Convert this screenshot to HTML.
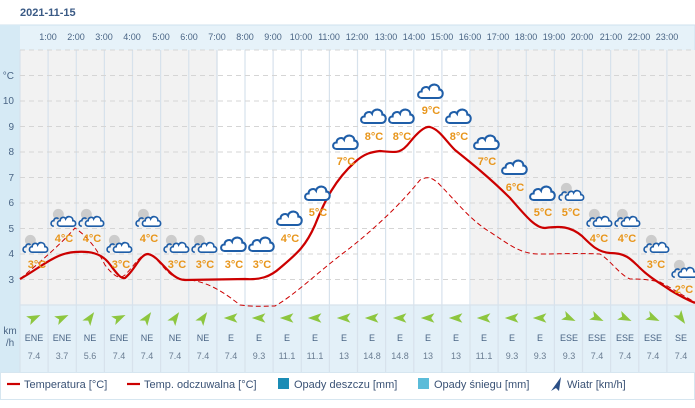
<!DOCTYPE html>
<html><head><meta charset="utf-8"><style>
html,body{margin:0;padding:0;background:#fff;width:695px;height:408px;overflow:hidden}
svg{display:block;font-family:"Liberation Sans",sans-serif}
</style></head><body>
<svg width="695" height="408" viewBox="0 0 695 408">
<defs>
<symbol id="cl" viewBox="0 0 30 20" overflow="visible">
<path d="M6,18 C1,18 1,11 6,11 C6,6 12,5 14,8 C15,2 25,2 25,9 C30,9 30,18 24,18 Z" fill="#fff" stroke="#1f5ea8" stroke-width="2.2"/>
</symbol>
<symbol id="nt" viewBox="0 0 30 22" overflow="visible">
<circle cx="11" cy="7" r="6" fill="#ccc"/>
<path d="M6,20 C2,20 2,14 6,14 C6,11 10,10 11,12" fill="none" stroke="#1f5ea8" stroke-width="1.8"/>
<path d="M13,20 C9,20 9,14 13,14 C13,10 18,9 19,12 C21,8 27,9 27,14 C31,14 31,20 27,20 Z" fill="#fff" stroke="#1f5ea8" stroke-width="1.8"/>
</symbol>
<symbol id="ar" viewBox="-10 -10 20 20" overflow="visible">
<path d="M9,0 L-8,-6 L-4,0 L-8,6 Z" fill="#8dc63f"/>
</symbol>
</defs>
<text x="20" y="16" font-size="11" font-weight="bold" fill="#3a5a85">2021-11-15</text>
<rect x="0" y="25" width="695" height="347" fill="#e6f2f9" stroke="#cfe2ee"/>
<rect x="0" y="25" width="20" height="347" fill="#d6eaf5"/>
<rect x="20" y="50" width="198" height="255" fill="#f2f2f2"/>
<rect x="218" y="50" width="253" height="255" fill="#fff"/>
<rect x="471" y="50" width="224" height="255" fill="#f2f2f2"/>
<rect x="20" y="305" width="675" height="67" fill="#e3f0f8"/>
<g stroke="#d7e2ec" stroke-width="1.2">
<line x1="48.1" y1="50" x2="48.1" y2="372"/><line x1="76.3" y1="50" x2="76.3" y2="372"/><line x1="104.4" y1="50" x2="104.4" y2="372"/><line x1="132.5" y1="50" x2="132.5" y2="372"/><line x1="160.6" y1="50" x2="160.6" y2="372"/><line x1="188.8" y1="50" x2="188.8" y2="372"/><line x1="216.9" y1="50" x2="216.9" y2="372"/><line x1="245" y1="50" x2="245" y2="372"/><line x1="273.1" y1="50" x2="273.1" y2="372"/><line x1="301.3" y1="50" x2="301.3" y2="372"/><line x1="329.4" y1="50" x2="329.4" y2="372"/><line x1="357.5" y1="50" x2="357.5" y2="372"/><line x1="385.6" y1="50" x2="385.6" y2="372"/><line x1="413.8" y1="50" x2="413.8" y2="372"/><line x1="441.9" y1="50" x2="441.9" y2="372"/><line x1="470" y1="50" x2="470" y2="372"/><line x1="498.1" y1="50" x2="498.1" y2="372"/><line x1="526.3" y1="50" x2="526.3" y2="372"/><line x1="554.4" y1="50" x2="554.4" y2="372"/><line x1="582.5" y1="50" x2="582.5" y2="372"/><line x1="610.6" y1="50" x2="610.6" y2="372"/><line x1="638.8" y1="50" x2="638.8" y2="372"/><line x1="666.9" y1="50" x2="666.9" y2="372"/>
<line x1="20" y1="50" x2="20" y2="372"/><line x1="20" y1="305" x2="695" y2="305"/>
</g>
<g stroke="#d5d5d5" stroke-dasharray="5,4">
<line x1="20" y1="50" x2="695" y2="50"/><line x1="20" y1="75.5" x2="695" y2="75.5"/><line x1="20" y1="101" x2="695" y2="101"/><line x1="20" y1="126.5" x2="695" y2="126.5"/><line x1="20" y1="152" x2="695" y2="152"/><line x1="20" y1="177.5" x2="695" y2="177.5"/><line x1="20" y1="203" x2="695" y2="203"/><line x1="20" y1="228.5" x2="695" y2="228.5"/><line x1="20" y1="254" x2="695" y2="254"/><line x1="20" y1="279.5" x2="695" y2="279.5"/>
</g>
<g font-size="9" fill="#4a6585" text-anchor="middle">
<text x="48" y="40">1:00</text><text x="76" y="40">2:00</text><text x="104" y="40">3:00</text><text x="132" y="40">4:00</text><text x="161" y="40">5:00</text><text x="189" y="40">6:00</text><text x="217" y="40">7:00</text><text x="245" y="40">8:00</text><text x="273" y="40">9:00</text><text x="301" y="40">10:00</text><text x="329" y="40">11:00</text><text x="357" y="40">12:00</text><text x="386" y="40">13:00</text><text x="414" y="40">14:00</text><text x="442" y="40">15:00</text><text x="470" y="40">16:00</text><text x="498" y="40">17:00</text><text x="526" y="40">18:00</text><text x="554" y="40">19:00</text><text x="582" y="40">20:00</text><text x="611" y="40">21:00</text><text x="639" y="40">22:00</text><text x="667" y="40">23:00</text>
</g>
<g font-size="10" fill="#4a6585" text-anchor="end">
<text x="14" y="79">°C</text><text x="14" y="104">10</text><text x="14" y="130">9</text><text x="14" y="155">8</text><text x="14" y="181">7</text><text x="14" y="206">6</text><text x="14" y="232">5</text><text x="14" y="257">4</text><text x="14" y="283">3</text>
</g>
<text x="10" y="334" font-size="10" fill="#4a6585" text-anchor="middle">km</text>
<text x="10" y="346" font-size="10" fill="#4a6585" text-anchor="middle">/h</text>
<path d="M20,304 L48,306 L76,306 L100,305 C115,304 120,300 135,300 L150,302 L160,306 L240,306 L270,306 C290,300 300,293 330,270 C360,245 380,225 400,205 C415,185 420,177 428,177 C440,180 450,195 470,215 C490,230 505,240 520,245 L535,250" fill="none"/>
<path d="M20,279 C40,262 60,245 75,228 C85,235 95,245 105,265 C115,278 120,279 125,275 C135,265 140,254 148,254 C158,256 165,275 180,279 C200,280 215,285 240,305 C255,307 265,306 275,306 C295,295 320,270 350,248 C375,228 400,205 420,180 C428,176 432,177 440,185 C455,200 470,220 490,232 C510,245 520,254 540,254 C560,254 575,253 600,254 C610,260 620,275 630,279 C645,279 650,280 660,282 C675,290 685,297 695,302" fill="none" stroke="#c00" stroke-width="1" stroke-dasharray="5,3"/>
<path d="M20,279 C40,268 55,253 75,252 C90,251 100,253 108,262 C116,272 120,279 125,278 C135,270 140,254 148,254 C160,256 170,280 185,280 L245,279 C260,280 270,277 280,268 C295,255 305,248 315,225 C325,200 335,180 355,162 C365,153 372,152 380,151 C395,152 400,155 410,142 C418,132 425,126 430,127 C440,130 445,140 455,150 C470,162 490,178 510,198 C525,215 535,228 545,228 C560,226 570,226 582,236 C592,246 598,252 610,253 C625,253 630,258 640,268 C650,278 660,283 670,290 C680,296 688,300 695,303" fill="none" stroke="#c00" stroke-width="2.2"/>
<g font-size="11" font-weight="bold" fill="#e8961c" text-anchor="middle">
<text x="37" y="268">3°C</text><text x="64" y="242">4°C</text><text x="92" y="242">4°C</text><text x="121" y="268">3°C</text><text x="149" y="242">4°C</text><text x="177" y="268">3°C</text><text x="205" y="268">3°C</text><text x="234" y="268">3°C</text><text x="262" y="268">3°C</text><text x="290" y="242">4°C</text><text x="318" y="216">5°C</text><text x="346" y="165">7°C</text><text x="374" y="140">8°C</text><text x="402" y="140">8°C</text><text x="431" y="114">9°C</text><text x="459" y="140">8°C</text><text x="487" y="165">7°C</text><text x="515" y="191">6°C</text><text x="543" y="216">5°C</text><text x="571" y="216">5°C</text><text x="599" y="242">4°C</text><text x="627" y="242">4°C</text><text x="656" y="268">3°C</text><text x="684" y="293">2°C</text>
</g>
<use href="#nt" x="20" y="234" width="28" height="20"/>
<use href="#nt" x="48" y="208" width="28" height="20"/>
<use href="#nt" x="76" y="208" width="28" height="20"/>
<use href="#nt" x="104" y="234" width="28" height="20"/>
<use href="#nt" x="133" y="208" width="28" height="20"/>
<use href="#nt" x="161" y="234" width="28" height="20"/>
<use href="#nt" x="189" y="234" width="28" height="20"/>
<use href="#cl" x="219" y="234" width="28" height="19"/>
<use href="#cl" x="247" y="234" width="28" height="19"/>
<use href="#cl" x="275" y="208" width="28" height="19"/>
<use href="#cl" x="303" y="183" width="28" height="19"/>
<use href="#cl" x="331" y="132" width="28" height="19"/>
<use href="#cl" x="359" y="106" width="28" height="19"/>
<use href="#cl" x="387" y="106" width="28" height="19"/>
<use href="#cl" x="416" y="81" width="28" height="19"/>
<use href="#cl" x="444" y="106" width="28" height="19"/>
<use href="#cl" x="472" y="132" width="28" height="19"/>
<use href="#cl" x="500" y="157" width="28" height="19"/>
<use href="#cl" x="528" y="183" width="28" height="19"/>
<use href="#nt" x="556" y="182" width="28" height="20"/>
<use href="#nt" x="584" y="208" width="28" height="20"/>
<use href="#nt" x="612" y="208" width="28" height="20"/>
<use href="#nt" x="641" y="234" width="28" height="20"/>
<use href="#nt" x="669" y="259" width="28" height="20"/>
<g>
<use href="#ar" x="26" y="310" width="16" height="16" transform="rotate(-25 34 318)"/>
<use href="#ar" x="54" y="310" width="16" height="16" transform="rotate(-25 62 318)"/>
<use href="#ar" x="82" y="310" width="16" height="16" transform="rotate(-55 90 318)"/>
<use href="#ar" x="111" y="310" width="16" height="16" transform="rotate(-25 119 318)"/>
<use href="#ar" x="139" y="310" width="16" height="16" transform="rotate(-55 147 318)"/>
<use href="#ar" x="167" y="310" width="16" height="16" transform="rotate(-55 175 318)"/>
<use href="#ar" x="195" y="310" width="16" height="16" transform="rotate(-55 203 318)"/>
<use href="#ar" x="223" y="310" width="16" height="16" transform="rotate(180 231 318)"/>
<use href="#ar" x="251" y="310" width="16" height="16" transform="rotate(180 259 318)"/>
<use href="#ar" x="279" y="310" width="16" height="16" transform="rotate(180 287 318)"/>
<use href="#ar" x="307" y="310" width="16" height="16" transform="rotate(180 315 318)"/>
<use href="#ar" x="336" y="310" width="16" height="16" transform="rotate(180 344 318)"/>
<use href="#ar" x="364" y="310" width="16" height="16" transform="rotate(180 372 318)"/>
<use href="#ar" x="392" y="310" width="16" height="16" transform="rotate(180 400 318)"/>
<use href="#ar" x="420" y="310" width="16" height="16" transform="rotate(180 428 318)"/>
<use href="#ar" x="448" y="310" width="16" height="16" transform="rotate(180 456 318)"/>
<use href="#ar" x="476" y="310" width="16" height="16" transform="rotate(180 484 318)"/>
<use href="#ar" x="504" y="310" width="16" height="16" transform="rotate(180 512 318)"/>
<use href="#ar" x="532" y="310" width="16" height="16" transform="rotate(180 540 318)"/>
<use href="#ar" x="561" y="310" width="16" height="16" transform="rotate(25 569 318)"/>
<use href="#ar" x="589" y="310" width="16" height="16" transform="rotate(25 597 318)"/>
<use href="#ar" x="617" y="310" width="16" height="16" transform="rotate(25 625 318)"/>
<use href="#ar" x="645" y="310" width="16" height="16" transform="rotate(25 653 318)"/>
<use href="#ar" x="673" y="310" width="16" height="16" transform="rotate(55 681 318)"/>
</g>
<g font-size="9" fill="#4a6585" text-anchor="middle">
<text x="34" y="341">ENE</text><text x="62" y="341">ENE</text><text x="90" y="341">NE</text><text x="119" y="341">ENE</text><text x="147" y="341">NE</text><text x="175" y="341">NE</text><text x="203" y="341">NE</text><text x="231" y="341">E</text><text x="259" y="341">E</text><text x="287" y="341">E</text><text x="315" y="341">E</text><text x="344" y="341">E</text><text x="372" y="341">E</text><text x="400" y="341">E</text><text x="428" y="341">E</text><text x="456" y="341">E</text><text x="484" y="341">E</text><text x="512" y="341">E</text><text x="540" y="341">E</text><text x="569" y="341">ESE</text><text x="597" y="341">ESE</text><text x="625" y="341">ESE</text><text x="653" y="341">ESE</text><text x="681" y="341">SE</text>
</g>
<g font-size="9" fill="#6a7d92" text-anchor="middle">
<text x="34" y="359">7.4</text><text x="62" y="359">3.7</text><text x="90" y="359">5.6</text><text x="119" y="359">7.4</text><text x="147" y="359">7.4</text><text x="175" y="359">7.4</text><text x="203" y="359">7.4</text><text x="231" y="359">7.4</text><text x="259" y="359">9.3</text><text x="287" y="359">11.1</text><text x="315" y="359">11.1</text><text x="344" y="359">13</text><text x="372" y="359">14.8</text><text x="400" y="359">14.8</text><text x="428" y="359">13</text><text x="456" y="359">13</text><text x="484" y="359">11.1</text><text x="512" y="359">9.3</text><text x="540" y="359">9.3</text><text x="569" y="359">9.3</text><text x="597" y="359">7.4</text><text x="625" y="359">7.4</text><text x="653" y="359">7.4</text><text x="681" y="359">7.4</text>
</g>
<rect x="0.5" y="372.5" width="694" height="27" fill="#fff" stroke="#d6e6f0"/>
<g font-size="11" fill="#3a5275">
<line x1="7" y1="384" x2="20" y2="384" stroke="#c00" stroke-width="2.2"/><text x="24" y="388">Temperatura [°C]</text>
<line x1="127" y1="384" x2="140" y2="384" stroke="#c00" stroke-width="2.2"/><text x="144" y="388">Temp. odczuwalna [°C]</text>
<rect x="278" y="378" width="11" height="11" fill="#1a8cb5"/><text x="294" y="388">Opady deszczu [mm]</text>
<rect x="418" y="378" width="11" height="11" fill="#5bbcd9"/><text x="434" y="388">Opady śniegu [mm]</text>
<path d="M561,377 L551,391 L556,388 L559,391 Z" fill="#2b4f86"/><text x="567" y="388">Wiatr [km/h]</text>
</g>
</svg>
</body></html>
